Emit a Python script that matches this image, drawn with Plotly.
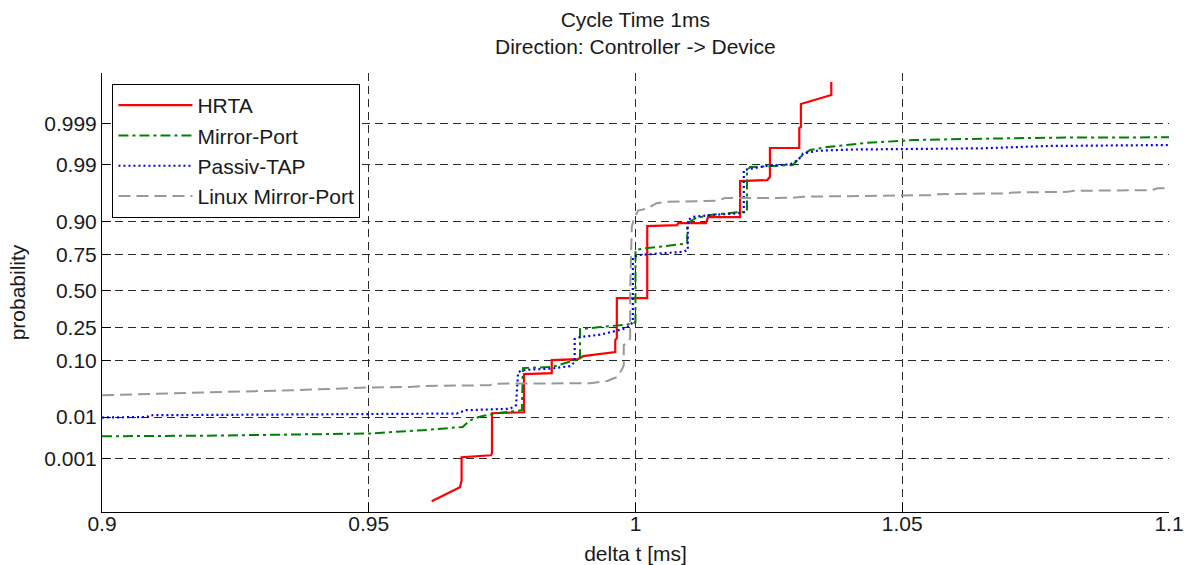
import plotly.graph_objects as go
from statistics import NormalDist

nd = NormalDist()


def probit(ps):
    return [nd.inv_cdf(p) for p in ps]


# ---------------- data (delta t in ms, cumulative probability) ----------------
hrta_t = [0.9618, 0.9671, 0.9674, 0.9674, 0.9729, 0.9731, 0.9731, 0.9791, 0.9791,
          0.9843, 0.9843, 0.9892, 0.9902, 0.9962, 0.9962, 0.9965, 0.9965, 1.0022,
          1.0022, 1.0078, 1.0080, 1.0132, 1.0136, 1.0196, 1.0196, 1.0247, 1.0252,
          1.0252, 1.0307, 1.0307, 1.0310, 1.0310, 1.0367, 1.0367]
hrta_p = [0.0000526, 0.000147, 0.000240, 0.001085, 0.00122, 0.00138, 0.01205, 0.01265,
          0.0626, 0.0646, 0.1010, 0.1045, 0.1145, 0.1297, 0.1820, 0.1921, 0.4472, 0.4472,
          0.8841, 0.8875, 0.8942, 0.8942, 0.9131, 0.9131, 0.9786, 0.9795, 0.9821,
          0.99580, 0.99580, 0.998665, 0.998746, 0.999716, 0.999849, 0.9999415]

mirror_t = [0.9000, 0.9183, 0.9500, 0.9601, 0.9676, 0.9690, 0.9708, 0.9736, 0.9787,
            0.9789, 0.9845, 0.9886, 0.9896, 0.9896, 0.9934, 0.9991, 1.0000, 1.0000,
            1.0013, 1.0097, 1.0097, 1.0113, 1.0140, 1.0190, 1.0209, 1.0209, 1.0215,
            1.0295, 1.0309, 1.0327, 1.0359, 1.0396, 1.0434, 1.0496, 1.0521, 1.0614,
            1.0772, 1.1000]
mirror_p = [0.00369, 0.00379, 0.00428, 0.00511, 0.00608, 0.00856, 0.01019, 0.01189,
            0.01393, 0.0774, 0.0808, 0.1010, 0.1010, 0.2405, 0.2523, 0.2704, 0.2825,
            0.7740, 0.7821, 0.8093, 0.8942, 0.9101, 0.9191, 0.9268, 0.9268, 0.9871,
            0.9888, 0.98987, 0.99323, 0.99531, 0.99601, 0.99643, 0.99685, 0.99715,
            0.99730, 0.99745, 0.99764, 0.99769]

tap_t = [0.9000, 0.9085, 0.9089, 0.9665, 0.9682, 0.9765, 0.9776, 0.9780, 0.9789,
         0.9840, 0.9877, 0.9886, 0.9886, 0.9896, 0.9934, 0.9980, 0.9990, 0.9995,
         0.9995, 1.0005, 1.0046, 1.0089, 1.0098, 1.0098, 1.0108, 1.0140, 1.0190,
         1.0203, 1.0203, 1.0245, 1.0290, 1.0305, 1.0314, 1.0341, 1.0403, 1.0500,
         1.0647, 1.0772, 1.1000]
tap_p = [0.00979, 0.01007, 0.01095, 0.01189, 0.01393, 0.01491, 0.01754, 0.0670,
         0.0723, 0.0760, 0.0828, 0.0946, 0.1871, 0.1974, 0.2100, 0.2433, 0.2640,
         0.2825, 0.7335, 0.7454, 0.7555, 0.7644, 0.7740, 0.9042, 0.9139, 0.9191,
         0.9234, 0.9268, 0.9871, 0.98936, 0.99021, 0.99209, 0.99435, 0.99513,
         0.99543, 0.99555, 0.99572, 0.99623, 0.99643]

linux_t = [0.9000, 0.9102, 0.9226, 0.9365, 0.9496, 0.9577, 0.9601, 0.9727, 0.9733,
           0.9915, 0.9947, 0.9965, 0.9975, 0.9978, 0.9978, 0.9986, 0.9990, 0.9990,
           0.9992, 0.9993, 0.9997, 1.0005, 1.0022, 1.0040, 1.0059, 1.0153, 1.0168,
           1.0295, 1.0314, 1.0427, 1.0440, 1.0553, 1.0566, 1.0697, 1.0708, 1.0810,
           1.0821, 1.0966, 1.0979, 1.1000]
linux_p = [0.02720, 0.02931, 0.03128, 0.03361, 0.03752, 0.03843, 0.03993, 0.04106,
           0.04358, 0.04450, 0.0483, 0.0560, 0.0748, 0.0857, 0.1587, 0.1703, 0.1921,
           0.506, 0.7148, 0.8802, 0.9101, 0.9307, 0.9358, 0.9472, 0.9497, 0.9519,
           0.9565, 0.9570, 0.9589, 0.9597, 0.9604, 0.9613, 0.9628, 0.9640, 0.9653,
           0.9661, 0.9675, 0.9684, 0.9707, 0.9707]

series_names = ["HRTA", "Mirror-Port", "Passiv-TAP", "Linux Mirror-Port"]

y_tick_p = [0.001, 0.01, 0.10, 0.25, 0.50, 0.75, 0.90, 0.99, 0.999]
y_tick_text = ["0.001", "0.01", "0.10", "0.25", "0.50", "0.75", "0.90", "0.99", "0.999"]
x_tick_vals = [0.9, 0.95, 1.0, 1.05, 1.1]
x_tick_text = ["0.9", "0.95", "1", "1.05", "1.1"]

# ---------------- figure ----------------
FONT = "Liberation Sans, Arial, Helvetica, sans-serif"
TXT = "#1a1a1a"
FS = 21

styles = [
    dict(color="#ff0000", width=2.2, dash="solid"),
    dict(color="#008000", width=2, dash="10px,4px,3px,4px"),
    dict(color="#0000ff", width=2.2, dash="2px,3px"),
    dict(color="#999999", width=2, dash="12px,6px"),
]
data = [(hrta_t, hrta_p), (mirror_t, mirror_p), (tap_t, tap_p), (linux_t, linux_p)]

fig = go.Figure()
for name, (t, p), st in zip(series_names, data, styles):
    fig.add_trace(go.Scatter(x=t, y=probit(p), mode="lines", name=name,
                             line=st, legendgroup=name))

fig.update_layout(
    width=1185, height=565,
    margin=dict(l=102, r=16, t=73, b=53, autoexpand=False),
    paper_bgcolor="white", plot_bgcolor="white",
    font=dict(family=FONT, size=FS, color=TXT),
    showlegend=True,
    legend=dict(x=0.0098, y=0.975, xanchor="left", yanchor="top",
                bordercolor="black", borderwidth=1, bgcolor="white",
                font=dict(family=FONT, size=FS, color=TXT),
                tracegroupgap=0, itemwidth=74),
    annotations=[dict(text="Cycle Time 1ms<br>Direction: Controller -&gt; Device",
                      xref="paper", yref="paper", x=0.5, y=1.0, yanchor="bottom",
                      xanchor="center", yshift=13, showarrow=False,
                      font=dict(family=FONT, size=FS, color=TXT))],
)

grid = dict(showgrid=True, gridcolor="#2a2a2a", gridwidth=1, griddash="8px,5px")

fig.update_xaxes(range=[0.9, 1.1], tickvals=x_tick_vals, ticktext=x_tick_text,
                 ticks="inside", ticklen=9, tickcolor="black", automargin=False,
                 ticklabelstandoff=-7,
                 showline=True, linecolor="black", linewidth=1, zeroline=False,
                 title=dict(text="delta t [ms]", standoff=12,
                            font=dict(family=FONT, size=FS, color=TXT)),
                 **grid)
fig.update_yaxes(range=[-4.076, 4.018], tickvals=probit(y_tick_p), ticktext=y_tick_text,
                 ticks="inside", ticklen=9, tickcolor="black", automargin=False,
                 showline=True, linecolor="black", linewidth=1, zeroline=False,
                 title=dict(text="probability", standoff=12,
                            font=dict(family=FONT, size=FS, color=TXT)),
                 **grid)

fig.write_html("out.html")
